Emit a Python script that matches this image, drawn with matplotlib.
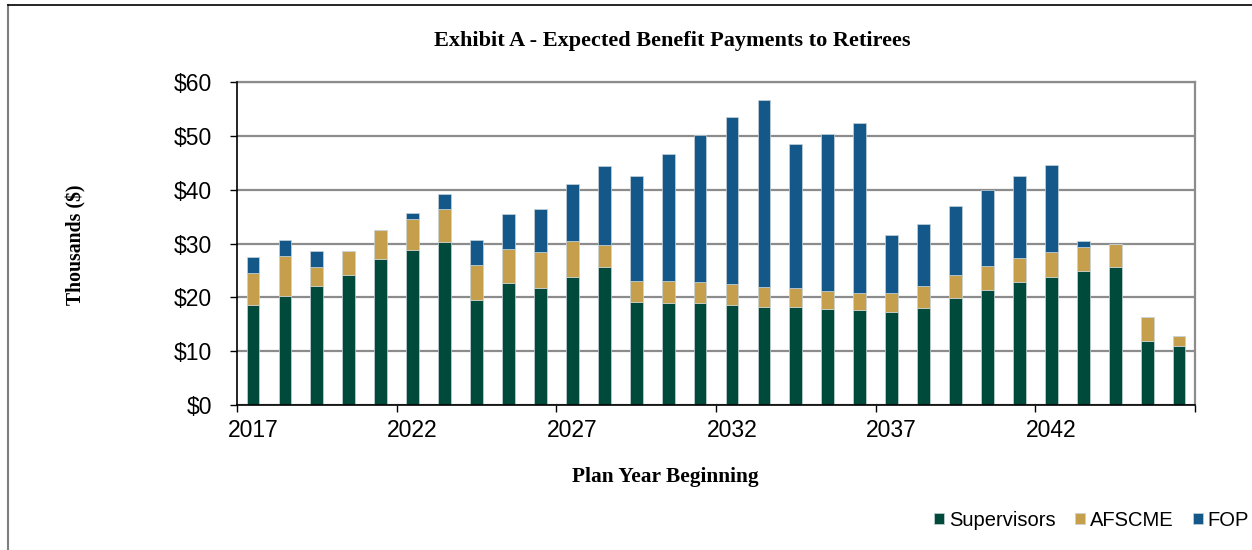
import matplotlib
matplotlib.use("Agg")
import matplotlib.pyplot as plt
from matplotlib.lines import Line2D
import numpy as np

# Plan years and benefit payments (thousands of $)
years = list(range(2017, 2047))
supervisors = [18.5, 20.3, 22.1, 24.1, 27.2, 28.8, 30.2, 19.5, 22.6, 21.8,
               23.8, 25.6, 19.1, 19.0, 18.9, 18.5, 18.3, 18.2, 17.8, 17.6,
               17.3, 18.1, 19.9, 21.4, 22.8, 23.8, 24.9, 25.6, 11.9, 11.0]
afscme = [6.0, 7.4, 3.5, 4.6, 5.4, 5.8, 6.2, 6.5, 6.4, 6.6,
          6.7, 4.1, 4.0, 4.0, 3.9, 3.9, 3.7, 3.6, 3.4, 3.3,
          3.6, 4.0, 4.2, 4.5, 4.5, 4.6, 4.4, 4.4, 4.4, 1.8]
fop = [3.0, 2.9, 3.1, 0.0, 0.0, 1.0, 2.8, 4.6, 6.4, 8.0,
       10.6, 14.7, 19.4, 23.6, 27.3, 31.1, 34.7, 26.7, 29.2, 31.5,
       10.7, 11.6, 12.9, 14.0, 15.2, 16.2, 1.2, 0.0, 0.0, 0.0]
label_every = 5
y_ticks = [0, 10, 20, 30, 40, 50, 60]

green = "#004A3B"
tan = "#C59F4C"
blue = "#14588A"

fig = plt.figure(figsize=(12.52, 5.5), dpi=100)
ax = fig.add_axes([0.1893, 0.2636, 0.7652, 0.5873])

x = np.arange(len(years))
sup = np.array(supervisors)
afs = np.array(afscme)
fp = np.array(fop)
w = 0.4
edge = dict(edgecolor="#c8d4d8", linewidth=0.5)
ax.bar(x, sup, w, color=green, label="Supervisors", zorder=3, **edge)
ax.bar(x, afs, w, bottom=sup, color=tan, label="AFSCME", zorder=3, **edge)
ax.bar(x, fp, w, bottom=sup + afs, color=blue, label="FOP", zorder=3, **edge)

ax.set_xlim(-0.5, len(years) - 0.5)
ax.set_ylim(0, 60)
ax.set_yticks(y_ticks)
ax.set_yticklabels(["$%d" % v for v in y_ticks])
# labels sit on category centres, tick marks on category boundaries
ax.set_xticks(x[::label_every])
ax.set_xticklabels([str(years[i]) for i in x[::label_every]])
ax.set_xticks(np.arange(-0.5, len(years), label_every), minor=True)
ax.tick_params(axis="x", which="major", length=0, pad=10)
ax.tick_params(axis="x", which="minor", length=5, width=1, color="black")
ax.tick_params(axis="y", length=5, width=1, color="black", pad=13)

ax.yaxis.grid(True, color="#8c8c8c", linewidth=1.6, zorder=0)
ax.set_axisbelow(True)
for s in ["top", "right"]:
    ax.spines[s].set_color("#8c8c8c")
    ax.spines[s].set_linewidth(1.6)
for s in ["left", "bottom"]:
    ax.spines[s].set_color("black")
    ax.spines[s].set_linewidth(1.2)
    ax.spines[s].set_zorder(4)

for lab in ax.get_xticklabels() + ax.get_yticklabels():
    lab.set_fontfamily("Liberation Sans")
    lab.set_fontsize(16.5)

serif = dict(family="Liberation Serif", weight="bold")
fig.text(0.5367, 1 - 41 / 550, "Exhibit A - Expected Benefit Payments to Retirees",
         ha="center", va="center", size=16, **serif)
fig.text(665 / 1252, 1 - 477 / 550, "Plan Year Beginning", ha="center", va="center",
         size=15.4, **serif)
fig.text(76 / 1252, 1 - 245 / 550, "Thousands ($)", ha="center", va="center",
         rotation=90, size=14.2, **serif)

fig.legend(loc="center right", bbox_to_anchor=(1249 / 1252, 1 - 520 / 550),
           ncol=3, frameon=False, handlelength=0.5, handleheight=0.5,
           handletextpad=0.25, columnspacing=0.95, borderaxespad=0, borderpad=0,
           prop=dict(family="Liberation Sans", size=14.5))

# outer chart border
fig.add_artist(Line2D([8 / 1252, 8 / 1252], [-0.01, 1 - 5 / 550],
                      transform=fig.transFigure, color="#7f7f7f", linewidth=1.5))
fig.add_artist(Line2D([8 / 1252, 1.01], [1 - 5 / 550, 1 - 5 / 550],
                      transform=fig.transFigure, color="black", linewidth=1.2))

fig.savefig("out.png", dpi=100)
